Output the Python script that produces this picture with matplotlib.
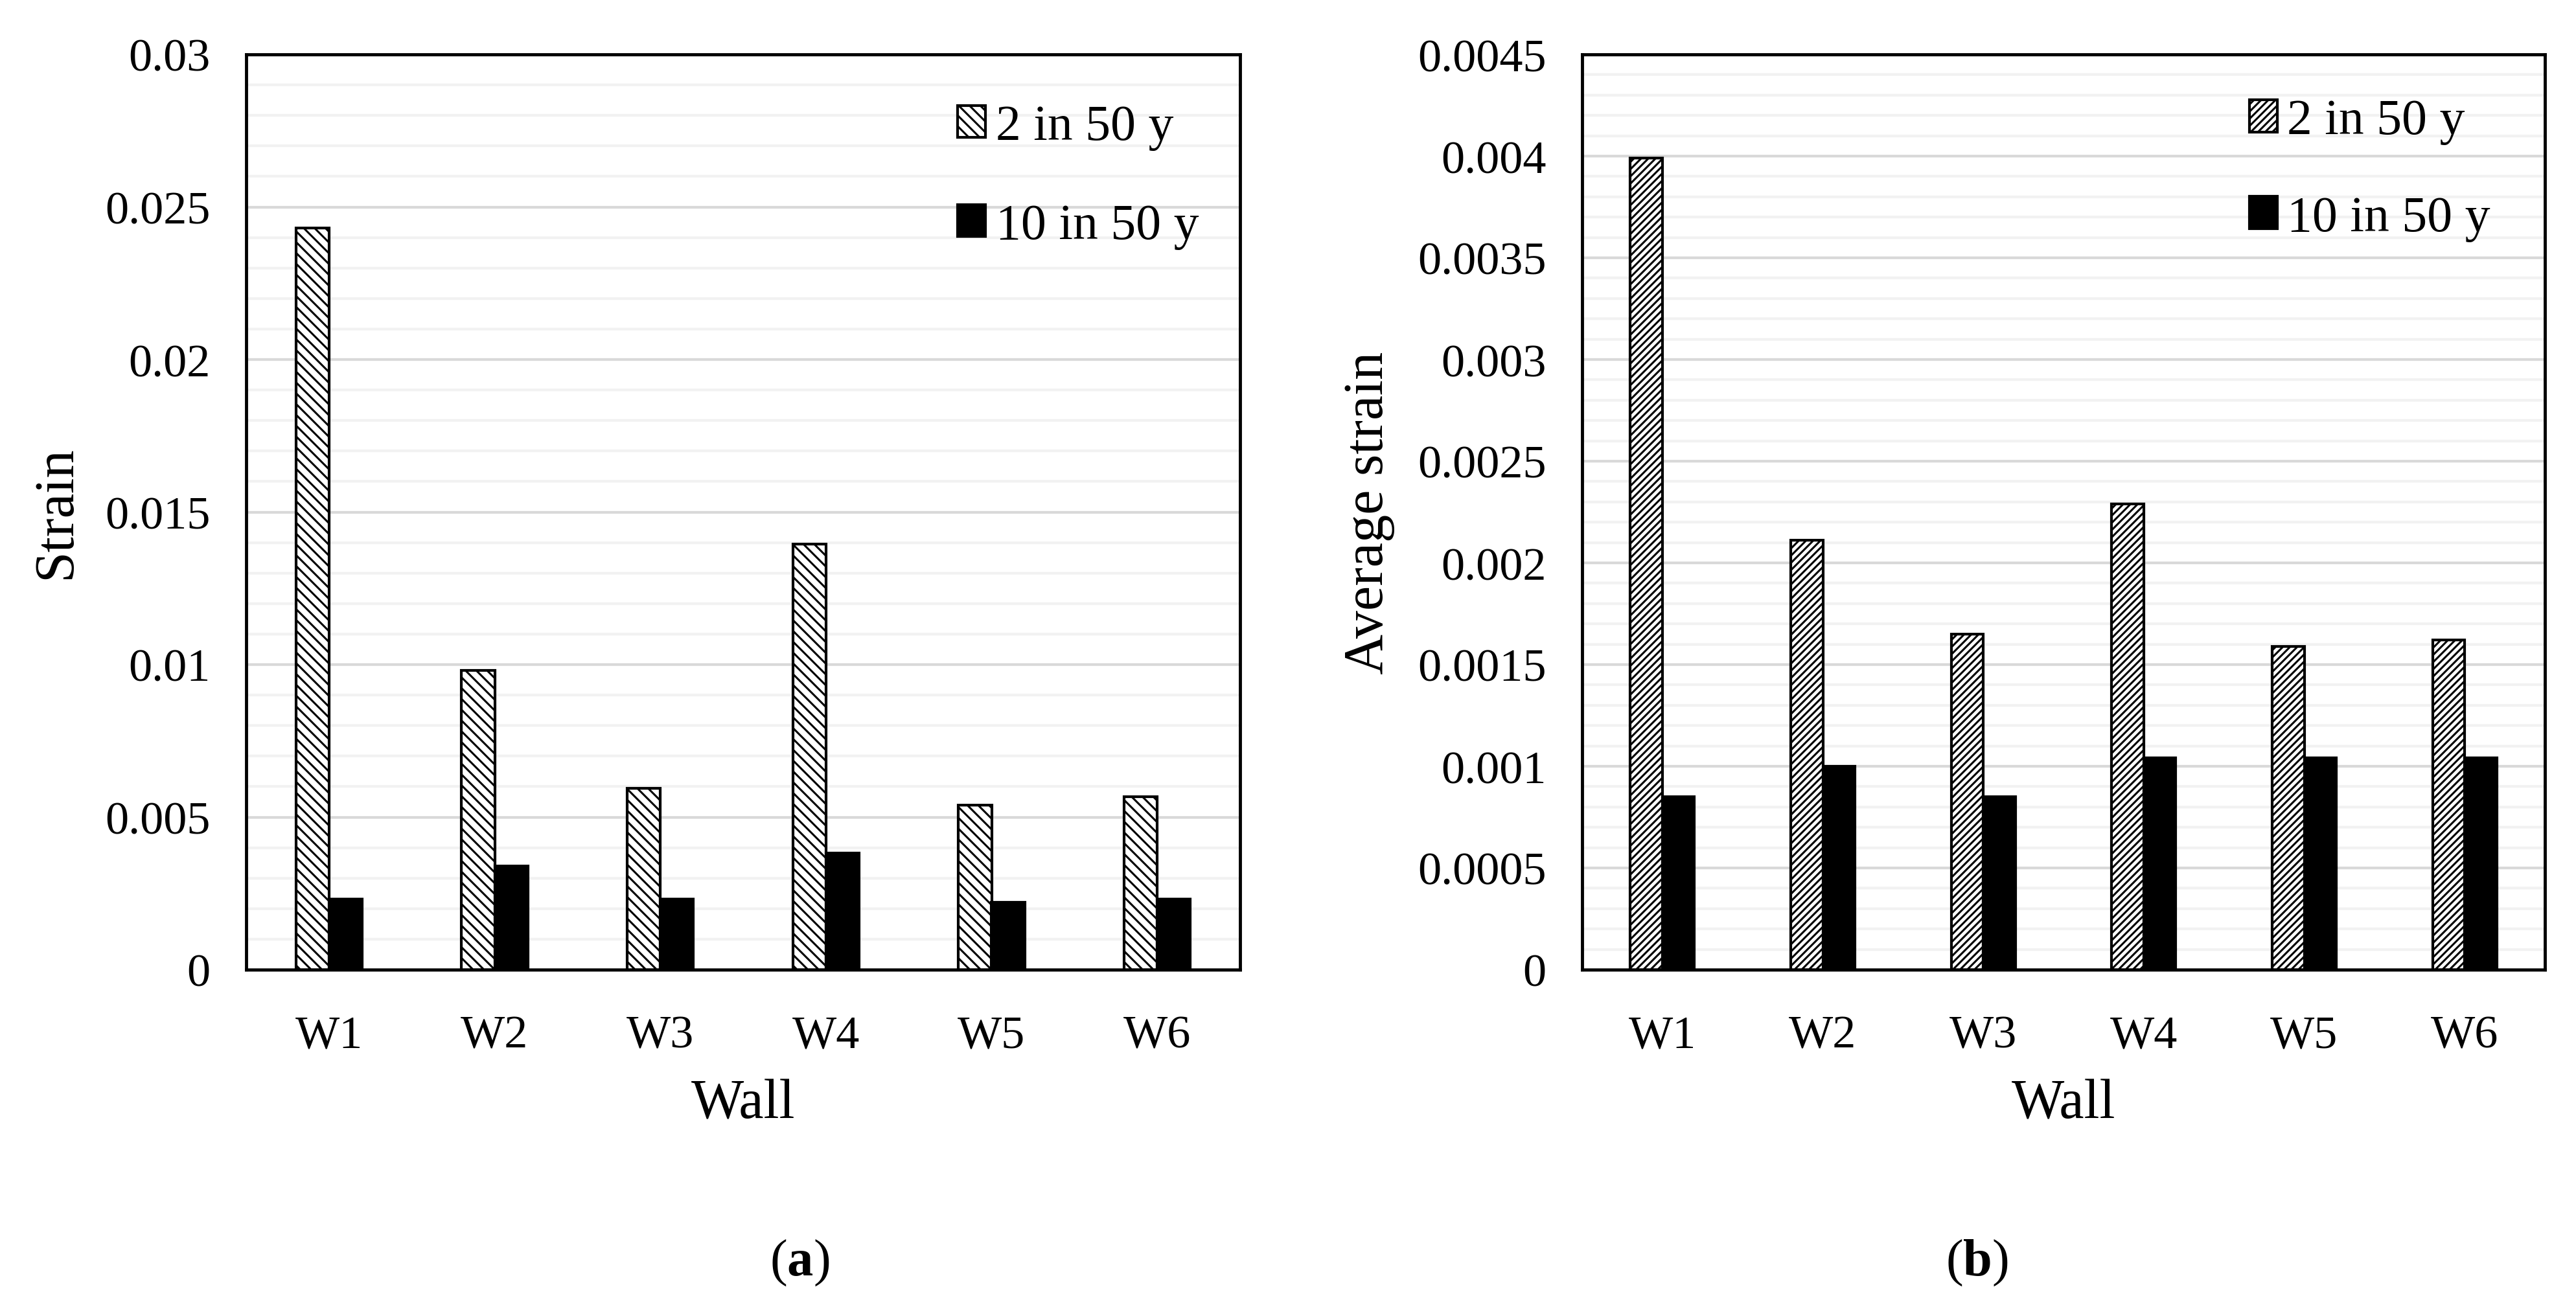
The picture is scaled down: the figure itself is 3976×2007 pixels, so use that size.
import matplotlib
matplotlib.use("Agg")
import matplotlib.pyplot as plt
from matplotlib.ticker import MultipleLocator, FixedLocator, FixedFormatter

plt.rcParams['font.family'] = ['Liberation Serif', 'DejaVu Serif']
plt.rcParams['mathtext.fontset'] = 'custom'
plt.rcParams['mathtext.rm'] = 'Liberation Serif'
plt.rcParams['mathtext.bf'] = 'Liberation Serif:bold'
plt.rcParams['hatch.linewidth'] = 2.2

walls = ['W1', 'W2', 'W3', 'W4', 'W5', 'W6']
series_names = ['2 in 50 y', '10 in 50 y']

# (a) strain
strain_2in50 = [0.0243, 0.0098, 0.00595, 0.01395, 0.0054, 0.00567]
strain_10in50 = [0.00232, 0.0034, 0.00232, 0.00382, 0.00221, 0.00232]
strain_ticks = [0, 0.005, 0.01, 0.015, 0.02, 0.025, 0.03]
strain_ticklabels = ['0', '0.005', '0.01', '0.015', '0.02', '0.025', '0.03']

# (b) average strain
avg_2in50 = [0.00399, 0.00211, 0.00165, 0.00229, 0.00159, 0.00162]
avg_10in50 = [0.00085, 0.001, 0.00085, 0.00104, 0.00104, 0.00104]
avg_ticks = [0, 0.0005, 0.001, 0.0015, 0.002, 0.0025, 0.003, 0.0035, 0.004, 0.0045]
avg_ticklabels = ['0', '0.0005', '0.001', '0.0015', '0.002', '0.0025',
                  '0.003', '0.0035', '0.004', '0.0045']

W, H = 3976, 2008
fig = plt.figure(figsize=(W / 100, H / 100), dpi=100)


def make_panel(rect, v1, v2, ticks, ticklabels, minor, ylabel, hatch, leg_anchor, spacing):
    ax = fig.add_axes(rect)
    x = list(range(len(walls)))
    ax.bar([i - 0.1 for i in x], v1, width=0.2, facecolor='white',
           edgecolor='black', hatch=hatch, linewidth=3, label=series_names[0], zorder=3)
    ax.bar([i + 0.1 for i in x], v2, width=0.2, facecolor='black',
           edgecolor='black', linewidth=3, label=series_names[1], zorder=3)
    ax.set_xlim(-0.5, len(walls) - 0.5)
    ax.set_ylim(ticks[0], ticks[-1])
    ax.yaxis.set_major_locator(FixedLocator(ticks))
    ax.yaxis.set_major_formatter(FixedFormatter(ticklabels))
    ax.yaxis.set_minor_locator(MultipleLocator(minor))
    ax.set_xticks(x)
    ax.set_xticklabels(walls)
    ax.grid(axis='y', which='major', color='#d9d9d9', lw=3)
    ax.grid(axis='y', which='minor', color='#f2f2f2', lw=3)
    ax.set_axisbelow(True)
    ax.tick_params(axis='both', which='both', length=0, labelsize=52)
    ax.tick_params(axis='y', pad=40)
    ax.tick_params(axis='x', pad=50)
    for s in ax.spines.values():
        s.set_linewidth(3.5)
        s.set_color('black')
    ax.set_xlabel('Wall', fontsize=62, labelpad=24)
    ax.set_ylabel(ylabel, fontsize=62, labelpad=25)
    ax.legend(loc='upper left', bbox_to_anchor=leg_anchor, frameon=False,
              fontsize=56, handlelength=0.55, handleheight=0.6,
              handletextpad=0.2, labelspacing=spacing, borderpad=0, borderaxespad=0)
    return ax


make_panel([380 / W, 1 - 1498 / H, 1534 / W, 1413 / H], strain_2in50, strain_10in50,
           strain_ticks, strain_ticklabels, 0.001, 'Strain', '\\\\', (0.716, 0.946), 1.05)
make_panel([2442 / W, 1 - 1498 / H, 1486 / W, 1413 / H], avg_2in50, avg_10in50,
           avg_ticks, avg_ticklabels, 0.0001, 'Average strain', '///', (0.693, 0.952), 1.0)

fig.text(1234 / W, 1 - 1950 / H, r'($\mathbf{a}$)', fontsize=58, ha='center', va='center')
fig.text(3051 / W, 1 - 1950 / H, r'($\mathbf{b}$)', fontsize=58, ha='center', va='center')

fig.savefig('out.png', dpi=100, facecolor='white')
